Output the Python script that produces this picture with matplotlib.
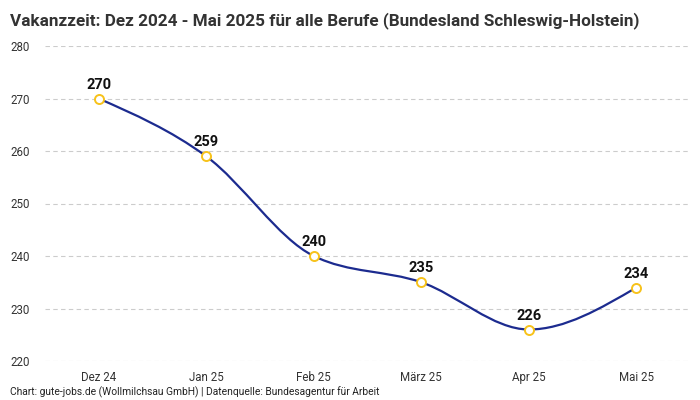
import numpy as np
import matplotlib.pyplot as plt
from matplotlib.path import Path
from matplotlib.patches import PathPatch

plt.rcParams['font.family'] = ['Roboto', 'DejaVu Sans']

months = ["Dez 24", "Jan 25", "Feb 25", "März 25", "Apr 25", "Mai 25"]
vacancy_days = [270, 259, 240, 235, 226, 234]

title = "Vakanzzeit: Dez 2024 - Mai 2025 für alle Berufe (Bundesland Schleswig-Holstein)"
source = "Chart: gute-jobs.de (Wollmilchsau GmbH) | Datenquelle: Bundesagentur für Arbeit"


def monotone_path(xs, ys):
    # cubic bezier segments like d3.curveMonotoneX
    xs = np.asarray(xs, float)
    ys = np.asarray(ys, float)
    n = len(xs)
    h = np.diff(xs)
    s = np.diff(ys) / h
    t = np.zeros(n)
    for i in range(1, n - 1):
        p = (s[i - 1] * h[i] + s[i] * h[i - 1]) / (h[i - 1] + h[i])
        t[i] = (np.sign(s[i - 1]) + np.sign(s[i])) * min(abs(s[i - 1]), abs(s[i]), 0.5 * abs(p))
    t[0] = (3 * s[0] - t[1]) / 2
    t[-1] = (3 * s[-1] - t[-2]) / 2
    verts = [(xs[0], ys[0])]
    codes = [Path.MOVETO]
    for i in range(n - 1):
        dx = h[i] / 3
        verts += [(xs[i] + dx, ys[i] + dx * t[i]),
                  (xs[i + 1] - dx, ys[i + 1] - dx * t[i + 1]),
                  (xs[i + 1], ys[i + 1])]
        codes += [Path.CURVE4] * 3
    return Path(verts, codes)


fig = plt.figure(figsize=(7, 4), dpi=100)
ax = fig.add_axes([0.064, 0.0975, 0.922, 0.7875])

x = np.arange(len(months))
ax.add_patch(PathPatch(monotone_path(x, vacancy_days), facecolor='none',
                       edgecolor='#1c2b8f', linewidth=1.6, zorder=3))
ax.plot(x, vacancy_days, linestyle='none', marker='o', markersize=6.5,
        markerfacecolor='white', markeredgecolor='#f7c21b', markeredgewidth=1.4, zorder=4)

for xi, v in zip(x, vacancy_days):
    ax.annotate(str(v), (xi, v), xytext=(0, 5), textcoords='offset points',
                ha='center', va='bottom', fontsize=10.5, fontweight='bold', color='#111111')

ax.set_xlim(-0.5, len(months) - 0.5)
ax.set_ylim(220, 280)
ax.set_yticks(range(220, 281, 10))
ax.set_xticks(x)
ax.set_xticklabels(months)
ax.tick_params(axis='both', length=0, labelsize=8.3, colors='#333333')
ax.tick_params(axis='y', pad=11)
ax.tick_params(axis='x', pad=7)
ax.grid(axis='y', linestyle=(0, (4, 3)), color='#cccccc', linewidth=0.8)
ax.set_axisbelow(True)
for sp in ax.spines.values():
    sp.set_visible(False)

fig.text(0.014, 0.97, title, ha='left', va='top', fontsize=12.3,
         fontweight='bold', color='#333333')
fig.text(0.014, 0.005, source, ha='left', va='bottom', fontsize=7.4, color='#222222')

fig.savefig('out.png', dpi=100)
